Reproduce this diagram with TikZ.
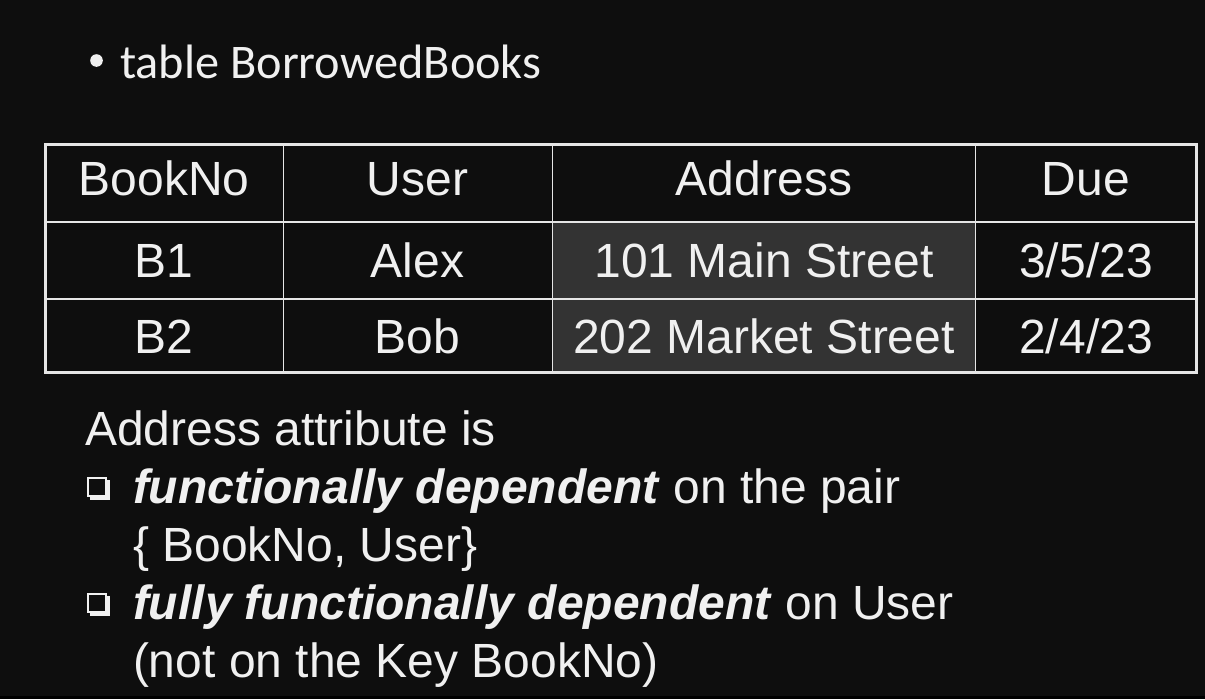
\documentclass[tikz,border=0pt]{standalone}
\usepackage{fontspec}
\setmainfont{Liberation Sans}
\newfontfamily\titlefont{Carlito}
\definecolor{bg}{HTML}{0E0E0E}
\definecolor{fg}{HTML}{F0F0F0}
\definecolor{ln}{HTML}{E6E6E6}
\definecolor{cellgray}{HTML}{333333}
\tikzset{
  txt/.style={inner sep=0pt, outer sep=0pt, text=fg, font=\fontsize{48}{58}\selectfont},
  cell/.style={txt, anchor=base},
  line/.style={txt, anchor=base west},
  ttl/.style={inner sep=0pt, text=fg, anchor=base west, font=\titlefont\fontsize{48.3}{56}\selectfont},
}
\begin{document}
\begin{tikzpicture}[x=1pt,y=-1pt]
\fill[bg] (0,0) rectangle (1205,699);
\useasboundingbox (0,0) rectangle (1205,699);
\fill[black] (0,696) rectangle (1205,699);
% title
\fill[fg] (96.5,60.5) circle (6.3);
\node[ttl] (title) at (120,78) {table BorrowedBooks};
% table
\fill[cellgray] (552.5,222) rectangle (975.5,372);
\draw[ln, line width=1.5pt] (283.5,144.5) -- (283.5,372.5)
  (552.5,144.5) -- (552.5,372.5)
  (975.5,144.5) -- (975.5,372.5)
  (45.5,222) -- (1196,222)
  (45.5,299) -- (1196,299);
\draw[ln, line width=3pt] (45.5,144.5) rectangle (1196,372.5);
\node[cell] (h1) at (164,195) {BookNo};
\node[cell] (h2) at (417.5,195) {User};
\node[cell] (h3) at (764,195) {Address};
\node[cell] (h4) at (1086,195) {Due};
\node[cell] (a1) at (164,277) {B1};
\node[cell] (a2) at (417.5,277) {Alex};
\node[cell] (a3) at (764,277) {101 Main Street};
\node[cell] (a4) at (1086,277) {3/5/23};
\node[cell] (b1) at (164,353) {B2};
\node[cell] (b2) at (417.5,353) {Bob};
\node[cell] (b3) at (764,353) {202 Market Street};
\node[cell] (b4) at (1086,353) {2/4/23};
% checkboxes
\foreach \yy in {477,593}{
  \fill[fg] (90,\yy+3) rectangle (110,\yy+23);
  \fill[fg] (87,\yy) rectangle (107,\yy+20);
  \fill[bg] (89,\yy+2) rectangle (105,\yy+18);
}
% text
\node[line] (l1) at (85,445) {Address attribute is};
\node[line] (l2) at (133,503) {\textbf{\textit{functionally dependent}} on the pair};
\node[line] (l3) at (133,561) {\{ BookNo, User\}};
\node[line] (l4) at (133,619) {\textbf{\textit{fully functionally dependent}} on User};
\node[line] (l5) at (133,677) {(not on the Key BookNo)};
\end{tikzpicture}
\end{document}
